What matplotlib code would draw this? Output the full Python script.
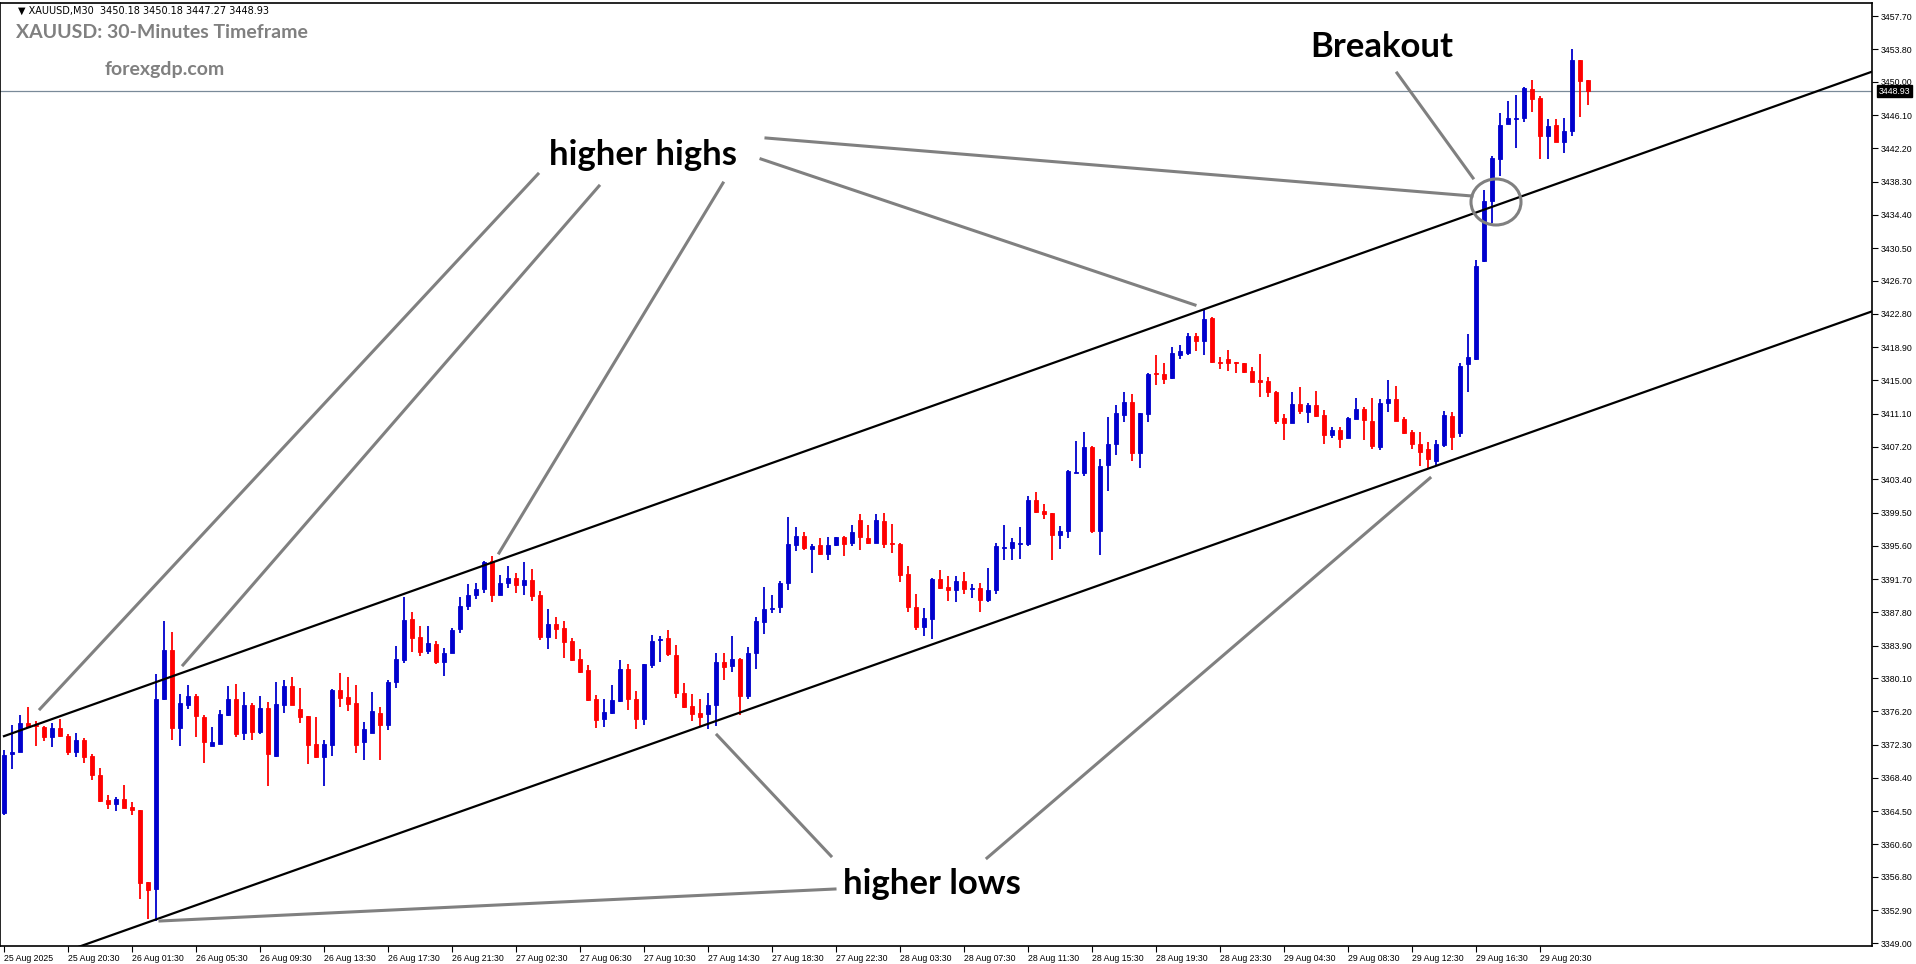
import matplotlib
matplotlib.use("Agg")
import matplotlib.pyplot as plt
from matplotlib.patches import Ellipse, Rectangle
import numpy as np

# ---------------- data ----------------
opens = [3364.3,3371.2,3371.5,3374.8,3374.6,3374.4,3373.2,3374.3,3373.3,3371.4,
         3372.9,3371.0,3368.8,3365.8,3365.3,3365.9,3365.0,3364.7,3356.2,3355.4,
         3377.6,3383.4,3374.2,3377.0,3378.0,3375.6,3372.2,3372.4,3375.8,3377.7,
         3373.7,3376.9,3373.8,3376.6,3371.0,3377.0,3379.2,3376.5,3375.7,3372.4,
         3370.9,3372.3,3378.7,3377.9,3377.2,3372.6,3373.7,3376.0,3374.6,3379.6,
         3382.2,3387.0,3384.9,3383.3,3384.1,3382.0,3383.0,3385.9,3388.6,3389.9,
         3390.6,3393.8,3389.9,3391.2,3391.8,3391.0,3391.6,3389.8,3384.9,3386.4,
         3386.0,3384.4,3382.3,3381.0,3377.6,3375.3,3376.0,3377.4,3381.2,3377.7,
         3375.3,3381.7,3384.6,3384.8,3382.8,3378.4,3376.8,3376.0,3375.9,3377.0,
         3382.0,3381.5,3382.4,3378.0,3383.0,3386.7,3388.2,3388.4,3391.3,3395.7,
         3396.8,3395.2,3395.7,3394.7,3395.7,3396.6,3396.0,3398.6,3396.5,3396.0,
         3398.5,3395.9,3395.8,3392.3,3388.4,3386.1,3387.0,3391.7,3390.8,3390.4,
         3391.5,3390.5,3390.7,3389.3,3390.4,3395.3,3395.4,3395.8,3395.8,3401.0,
         3399.7,3399.5,3396.9,3397.3,3404.2,3404.2,3407.2,3397.4,3405.1,3407.6,
         3410.9,3412.5,3406.5,3411.1,3415.8,3415.7,3415.3,3418.0,3418.2,3420.2,
         3419.6,3422.3,3417.2,3417.5,3417.1,3417.0,3416.1,3415.0,3414.9,3413.7,
         3410.6,3410.0,3412.2,3411.3,3412.1,3410.9,3408.6,3409.2,3408.3,3410.5,
         3411.7,3410.3,3407.2,3412.3,3412.8,3410.5,3408.9,3407.6,3407.0,3405.6,
         3407.4,3410.8,3408.8,3416.9,3417.5,3429.0,3436.0,3441.0,3445.1,3445.7,
         3445.8,3449.2,3448.1,3443.6,3444.9,3442.9,3444.2,3452.6,3450.18]
highs = [3371.7,3374.6,3375.8,3376.7,3375.1,3374.5,3374.8,3375.3,3373.5,3373.7,
         3373.1,3371.2,3369.6,3366.4,3366.2,3367.6,3365.6,3364.7,3356.2,3380.6,
         3386.8,3385.5,3378.3,3379.3,3378.3,3375.8,3374.4,3376.4,3379.2,3379.4,
         3378.5,3377.2,3378.0,3377.3,3379.6,3379.9,3380.2,3379.0,3375.7,3375.5,
         3372.9,3378.8,3380.7,3380.2,3379.3,3375.0,3378.5,3376.7,3379.9,3383.9,
         3389.6,3387.9,3386.2,3386.2,3384.5,3383.6,3386.0,3389.6,3391.1,3391.2,
         3393.8,3394.4,3392.2,3393.2,3392.4,3393.7,3392.9,3390.3,3388.2,3387.3,
         3386.8,3384.8,3383.5,3381.6,3378.1,3377.7,3379.3,3382.2,3381.8,3378.6,
         3381.8,3385.2,3385.0,3385.7,3384.0,3379.5,3378.2,3377.6,3378.4,3383.1,
         3383.0,3385.0,3382.5,3383.8,3387.3,3390.8,3389.8,3391.5,3399.0,3397.8,
         3397.2,3395.8,3396.5,3396.6,3396.7,3396.8,3398.1,3399.4,3398.0,3399.4,
         3399.5,3398.2,3395.9,3393.2,3390.0,3388.3,3391.8,3392.8,3392.1,3392.1,
         3392.5,3391.1,3391.2,3393.0,3395.9,3398.0,3396.5,3397.8,3401.4,3401.9,
         3400.5,3399.5,3397.9,3404.5,3407.9,3409.0,3407.3,3405.8,3410.7,3412.1,
         3413.7,3413.4,3411.2,3415.9,3418.0,3417.1,3418.9,3419.1,3420.6,3420.6,
         3423.4,3422.4,3417.8,3418.6,3417.2,3417.1,3416.6,3418.1,3415.4,3413.8,
         3411.1,3413.7,3414.2,3412.4,3413.8,3411.5,3409.6,3409.6,3410.7,3412.9,
         3411.9,3412.9,3412.8,3415.0,3414.3,3410.7,3409.2,3409.0,3407.8,3408.0,
         3411.4,3411.3,3417.0,3420.4,3429.1,3437.3,3441.3,3446.3,3447.8,3448.5,
         3449.4,3450.2,3448.3,3445.7,3445.7,3445.8,3453.9,3452.6,3450.18]
lows = [3364.1,3369.5,3371.5,3374.2,3372.2,3372.7,3372.0,3373.2,3371.1,3370.9,
        3370.1,3368.2,3365.6,3364.8,3364.5,3364.9,3364.0,3354.2,3351.9,3351.6,
        3377.5,3372.8,3372.1,3376.5,3373.2,3370.1,3372.1,3372.4,3375.7,3373.2,
        3372.8,3372.8,3373.5,3367.5,3370.9,3376.0,3376.9,3374.8,3370.0,3370.7,
        3367.5,3371.0,3376.7,3376.3,3371.3,3370.5,3373.7,3370.5,3374.0,3378.9,
        3381.9,3383.2,3382.7,3382.9,3381.8,3380.3,3383.0,3385.4,3388.1,3389.4,
        3390.1,3389.0,3389.9,3390.7,3390.1,3389.8,3389.1,3384.6,3383.5,3384.7,
        3382.5,3382.1,3380.7,3377.4,3374.2,3374.4,3375.9,3377.3,3376.4,3374.1,
        3374.6,3381.3,3382.0,3382.7,3377.8,3376.6,3375.1,3374.5,3374.1,3374.5,
        3379.9,3380.8,3375.8,3377.7,3381.2,3385.3,3387.7,3387.7,3390.4,3395.0,
        3395.1,3392.4,3394.5,3394.0,3395.6,3394.4,3395.6,3395.1,3395.8,3396.0,
        3395.3,3394.8,3391.4,3387.8,3385.8,3385.0,3384.7,3390.6,3389.1,3389.0,
        3390.0,3389.5,3387.9,3389.0,3390.0,3394.0,3393.9,3394.1,3395.6,3399.5,
        3398.7,3394.0,3395.2,3396.5,3404.1,3403.8,3397.1,3394.5,3402.0,3406.3,
        3410.1,3405.6,3404.7,3410.1,3414.5,3414.6,3415.2,3417.5,3418.0,3418.4,
        3418.0,3417.1,3416.3,3416.1,3415.9,3415.9,3414.8,3413.1,3413.1,3409.9,
        3408.0,3410.0,3411.1,3410.0,3410.7,3407.6,3408.2,3407.1,3408.3,3410.5,
        3408.0,3407.0,3406.8,3411.3,3410.3,3408.7,3407.0,3405.0,3404.6,3405.0,
        3407.2,3406.8,3408.4,3413.7,3417.4,3428.9,3433.5,3439.0,3445.1,3442.3,
        3445.3,3446.5,3441.0,3441.0,3442.9,3441.7,3443.6,3445.9,3447.27]
closes = [3371.1,3371.5,3374.8,3374.4,3374.5,3373.2,3374.3,3373.3,3371.4,3372.9,
          3370.8,3368.7,3365.7,3365.3,3365.9,3364.9,3364.6,3356.1,3355.3,3377.7,
          3383.4,3374.3,3377.2,3378.0,3375.7,3372.6,3372.6,3375.9,3377.7,3373.6,
          3377.0,3373.8,3376.6,3371.2,3377.1,3379.2,3377.0,3375.6,3372.3,3370.9,
          3372.4,3378.7,3377.8,3377.1,3372.3,3374.1,3376.2,3374.6,3379.7,3382.4,
          3386.9,3384.8,3383.2,3384.2,3382.0,3383.1,3385.8,3388.6,3389.9,3390.6,
          3393.7,3389.9,3391.2,3391.8,3391.0,3391.6,3389.7,3384.9,3386.5,3385.9,
          3384.3,3382.2,3380.8,3377.5,3375.2,3376.1,3377.5,3381.2,3377.7,3375.3,
          3381.8,3384.5,3384.7,3382.9,3378.4,3376.7,3375.9,3375.5,3377.0,3382.0,
          3381.4,3382.3,3378.0,3383.0,3386.8,3388.2,3388.3,3391.3,3395.8,3396.8,
          3395.3,3395.6,3394.7,3395.7,3396.6,3395.8,3397.2,3396.6,3396.0,3398.6,
          3395.8,3395.8,3392.2,3388.4,3386.1,3387.2,3391.7,3390.7,3390.4,3391.5,
          3390.6,3390.7,3389.3,3390.4,3395.6,3395.5,3396.1,3396.0,3401.0,3399.6,
          3399.4,3396.9,3397.3,3404.4,3404.2,3407.2,3397.4,3405.0,3407.6,3411.2,
          3412.5,3406.5,3411.2,3415.8,3415.7,3415.2,3418.2,3418.4,3420.2,3419.6,
          3422.2,3417.2,3417.0,3417.0,3417.0,3416.0,3414.8,3414.8,3413.7,3410.3,
          3410.0,3412.2,3411.4,3412.1,3410.8,3408.6,3409.2,3408.1,3410.6,3411.7,
          3410.4,3407.3,3412.3,3412.8,3410.3,3408.8,3407.6,3406.6,3405.8,3407.5,
          3410.9,3408.4,3416.7,3417.7,3428.4,3436.0,3441.1,3444.9,3445.8,3445.8,
          3449.3,3448.0,3443.6,3444.8,3442.9,3444.2,3452.6,3450.1,3448.93]

tick_bars = list(range(0, 200, 8))
tick_labels = ["25 Aug 2025", "25 Aug 20:30", "26 Aug 01:30", "26 Aug 05:30", "26 Aug 09:30",
               "26 Aug 13:30", "26 Aug 17:30", "26 Aug 21:30", "27 Aug 02:30", "27 Aug 06:30",
               "27 Aug 10:30", "27 Aug 14:30", "27 Aug 18:30", "27 Aug 22:30", "28 Aug 03:30",
               "28 Aug 07:30", "28 Aug 11:30", "28 Aug 15:30", "28 Aug 19:30", "28 Aug 23:30",
               "29 Aug 04:30", "29 Aug 08:30", "29 Aug 12:30", "29 Aug 16:30", "29 Aug 20:30"]
price_ticks = [3457.70, 3453.80, 3450.00, 3446.10, 3442.20, 3438.30, 3434.40, 3430.50,
               3426.70, 3422.80, 3418.90, 3415.00, 3411.10, 3407.20, 3403.40, 3399.50,
               3395.60, 3391.70, 3387.80, 3383.90, 3380.10, 3376.20, 3372.30, 3368.40,
               3364.50, 3360.60, 3356.80, 3352.90, 3349.00]
upper_channel_bars = [0, 233.5]
upper_channel_prices = [3373.3, 3451.2]
lower_channel_bars = [0, 233.5]
lower_channel_prices = [3345.5, 3423.1]
last_price = 3448.93

# ---------------- figure ----------------
W, H = 1916, 964
fig = plt.figure(figsize=(W / 100, H / 100), dpi=100)
ax = fig.add_axes([0, (H - 946) / H, 1872 / W, (946 - 3) / H])
ax.set_xlim(-0.5, 233.5)
ax.set_ylim(3348.7, 3459.25)

BLUE = "#0000CD"
RED = "#FF0000"
for i, (o, h, l, c) in enumerate(zip(opens, highs, lows, closes)):
    col = BLUE if c >= o else RED
    ax.plot([i, i], [l, h], color=col, lw=1.3, solid_capstyle="butt", zorder=3)
    bot, top = min(o, c), max(o, c)
    ax.add_patch(Rectangle((i - 0.3, bot), 0.6, max(top - bot, 0.12),
                           facecolor=col, edgecolor=col, lw=0.6, zorder=4))

ax.plot(upper_channel_bars, upper_channel_prices, color="black", lw=1.6, zorder=5)
ax.plot(lower_channel_bars, lower_channel_prices, color="black", lw=1.6, zorder=5)
ax.axhline(last_price, color="#7a8a99", lw=0.9, zorder=2)

for s in ["top", "left", "bottom", "right"]:
    ax.spines[s].set_linewidth(1.2)
ax.yaxis.tick_right()
ax.set_yticks(price_ticks)
ax.set_yticklabels([f"{p:.2f}" for p in price_ticks], fontsize=6.3, family="Liberation Sans")
ax.tick_params(axis="y", direction="out", length=4, pad=2)
ax.set_xticks(tick_bars)
ax.set_xticklabels(tick_labels, fontsize=6.3, family="Liberation Sans", ha="left")
ax.tick_params(axis="x", direction="out", length=4, pad=2)

# current price box
ax.text(1.0035, last_price, f"{last_price:.2f}", transform=ax.get_yaxis_transform(),
        fontsize=6.3, color="white", va="center", ha="left", family="Liberation Sans",
        bbox=dict(boxstyle="square,pad=0.2", fc="black", ec="black"), zorder=10, clip_on=False)

# ---------------- texts & annotations (figure pixel coords, origin top-left) ----------------
fig.text(18 / W, 1 - 11 / H, "\u25BC XAUUSD,M30  3450.18 3450.18 3447.27 3448.93",
         fontsize=7, va="center", ha="left", family="DejaVu Sans")
fig.text(16 / W, 1 - 32 / H, "XAUUSD: 30-Minutes Timeframe", fontsize=14, weight="bold",
         color="#808080", va="center", ha="left", family="Lato")
fig.text(105 / W, 1 - 70 / H, "forexgdp.com", fontsize=14, weight="bold",
         color="#808080", va="center", ha="left", family="Lato")

fig.text(1382 / W, 1 - 47 / H, "Breakout", fontsize=25, weight="bold", color="black",
         va="center", ha="center", family="Lato")
fig.text(643 / W, 1 - 155 / H, "higher highs", fontsize=25, weight="bold", color="black",
         va="center", ha="center", family="Lato")
fig.text(932 / W, 1 - 884 / H, "higher lows", fontsize=25, weight="bold", color="black",
         va="center", ha="center", family="Lato")

GRAY = "#808080"
segments = [
    ((538, 174), (40, 709)),
    ((599, 186), (183, 665)),
    ((723, 183), (499, 553)),
    ((761, 159), (1195, 305)),
    ((766, 138), (1472, 196)),
    ((1397, 73), (1473, 178)),
    ((831, 856), (717, 735)),
    ((987, 858), (1430, 478)),
    ((835, 889), (160, 921)),
]
for (x0, y0), (x1, y1) in segments:
    fig.add_artist(plt.Line2D([x0 / W, x1 / W], [1 - y0 / H, 1 - y1 / H],
                              color=GRAY, lw=2.2, transform=fig.transFigure, zorder=20))

fig.add_artist(Ellipse((1496 / W, 1 - 202 / H), 50 / W, 46 / H, fill=False,
                       ec=GRAY, lw=2.2, transform=fig.transFigure, zorder=20))

fig.savefig("out.png", dpi=100)
